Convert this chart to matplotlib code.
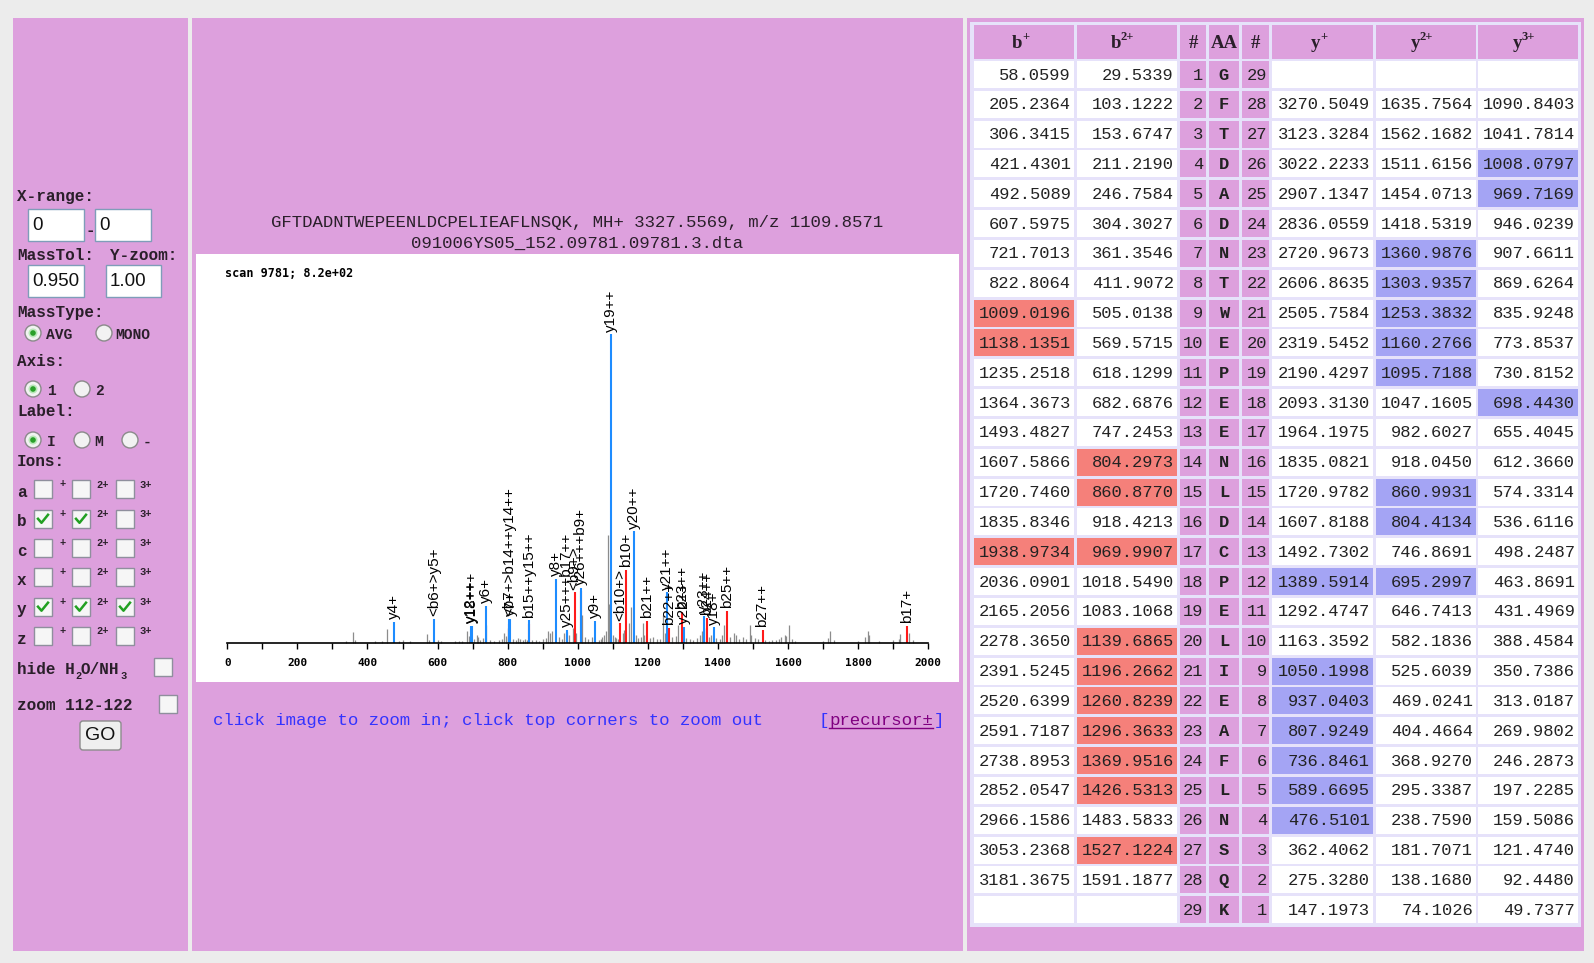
import matplotlib
matplotlib.use('Agg')
import matplotlib.pyplot as plt
from matplotlib.patches import Rectangle, Circle, FancyBboxPatch
from matplotlib.lines import Line2D
from matplotlib.transforms import Affine2D

# ------------------------------------------------------------
# data
# ------------------------------------------------------------
sequence = "GFTDADNTWEPEENLDCPELIEAFLNSQK"

b_1 = ['58.0599', '205.2364', '306.3415', '421.4301', '492.5089', '607.5975', '721.7013',
       '822.8064', '1009.0196', '1138.1351', '1235.2518', '1364.3673', '1493.4827',
       '1607.5866', '1720.7460', '1835.8346', '1938.9734', '2036.0901', '2165.2056',
       '2278.3650', '2391.5245', '2520.6399', '2591.7187', '2738.8953', '2852.0547',
       '2966.1586', '3053.2368', '3181.3675', '']
b_2 = ['29.5339', '103.1222', '153.6747', '211.2190', '246.7584', '304.3027', '361.3546',
       '411.9072', '505.0138', '569.5715', '618.1299', '682.6876', '747.2453', '804.2973',
       '860.8770', '918.4213', '969.9907', '1018.5490', '1083.1068', '1139.6865',
       '1196.2662', '1260.8239', '1296.3633', '1369.9516', '1426.5313', '1483.5833',
       '1527.1224', '1591.1877', '']
y_1 = ['', '3270.5049', '3123.3284', '3022.2233', '2907.1347', '2836.0559', '2720.9673',
       '2606.8635', '2505.7584', '2319.5452', '2190.4297', '2093.3130', '1964.1975',
       '1835.0821', '1720.9782', '1607.8188', '1492.7302', '1389.5914', '1292.4747',
       '1163.3592', '1050.1998', '937.0403', '807.9249', '736.8461', '589.6695',
       '476.5101', '362.4062', '275.3280', '147.1973']
y_2 = ['', '1635.7564', '1562.1682', '1511.6156', '1454.0713', '1418.5319', '1360.9876',
       '1303.9357', '1253.3832', '1160.2766', '1095.7188', '1047.1605', '982.6027',
       '918.0450', '860.9931', '804.4134', '746.8691', '695.2997', '646.7413', '582.1836',
       '525.6039', '469.0241', '404.4664', '368.9270', '295.3387', '238.7590', '181.7071',
       '138.1680', '74.1026']
y_3 = ['', '1090.8403', '1041.7814', '1008.0797', '969.7169', '946.0239', '907.6611',
       '869.6264', '835.9248', '773.8537', '730.8152', '698.4430', '655.4045', '612.3660',
       '574.3314', '536.6116', '498.2487', '463.8691', '431.4969', '388.4584', '350.7386',
       '313.0187', '269.9802', '246.2873', '197.2285', '159.5086', '121.4740', '92.4480',
       '49.7377']

# matched rows (1-based)
hit_b1 = [9, 10, 17]
hit_b2 = [14, 15, 17, 20, 21, 22, 23, 24, 25, 27]
hit_y1 = [18, 21, 22, 23, 24, 25, 26]
hit_y2 = [7, 8, 9, 10, 11, 15, 16, 18]
hit_y3 = [4, 5, 12]

# spectrum : unmatched peaks
gray_mz = [340, 360, 365, 420, 440, 457, 490, 500, 520, 570,
           575, 600, 610, 650, 660, 670, 683, 690, 703, 712,
           716, 722, 730, 739, 750, 760, 775, 785, 790, 795,
           800, 802, 815, 825, 830, 835, 845, 850, 855, 870,
           880, 890, 900, 910, 916, 921, 926, 945, 955, 960,
           975, 985, 996, 1011, 1020, 1030, 1040, 1060, 1065, 1070,
           1075, 1080, 1085, 1088, 1092, 1100, 1105, 1110, 1115, 1128,
           1132, 1145, 1151, 1165, 1172, 1180, 1185, 1190, 1205, 1215,
           1225, 1235, 1242, 1248, 1258, 1270, 1280, 1287, 1300, 1310,
           1320, 1330, 1340, 1350, 1355, 1365, 1375, 1380, 1395, 1405,
           1412, 1417, 1435, 1445, 1450, 1460, 1470, 1480, 1491, 1495,
           1505, 1515, 1535, 1545, 1555, 1565, 1575, 1580, 1590, 1595,
           1603, 1610, 1620, 1700, 1715, 1720, 1730, 1800, 1820, 1827,
           1832, 1860, 1900, 1915, 1919, 1945, 1955]
gray_int = [5, 29, 8, 5, 5, 37, 5, 8, 5, 24,
            8, 8, 5, 5, 5, 5, 32, 19, 11, 21,
            16, 8, 13, 48, 8, 5, 8, 11, 27, 19,
            13, 40, 11, 8, 13, 11, 8, 11, 8, 8,
            8, 5, 11, 13, 32, 27, 32, 16, 11, 27,
            21, 40, 27, 74, 16, 11, 16, 8, 11, 16,
            21, 32, 287, 104, 27, 21, 16, 13, 11, 27,
            35, 53, 96, 21, 13, 16, 53, 21, 13, 16,
            11, 11, 74, 27, 21, 16, 19, 48, 16, 13,
            11, 8, 13, 21, 32, 40, 16, 21, 13, 11,
            21, 48, 16, 27, 21, 11, 16, 11, 48, 21,
            13, 11, 8, 5, 8, 8, 11, 16, 21, 19,
            48, 11, 5, 5, 13, 32, 8, 5, 16, 32,
            21, 5, 8, 11, 24, 27, 8]

# b ions (red)
red_mz = [804.3, 860.9, 970.0, 991.0, 1009.0, 1120.1, 1138.1, 1196.3, 1260.8,
          1296.4, 1370.0, 1426.5, 1527.1, 1939.0]
red_int = [50, 50, 30, 135, 140, 53, 195, 60, 40, 84, 68, 87, 35, 46]
red_lab = ['', '', '', '<b9+>', '', '<b10+>', 'b10+', 'b21++', 'b22++',
           'b23++', 'b24++', 'b25++', 'b27++', 'b17+']

# y ions (blue)
blue_mz = [476.5, 589.7, 695.3, 698.4, 736.8, 804.4, 807.9, 860.9, 937.0, 969.7,
           1008.1, 1050.2, 1095.7, 1160.3, 1253.4, 1303.9, 1361.0, 1389.6]
blue_int = [57, 64, 46, 46, 100, 64, 64, 61, 171, 35,
            148, 60, 820, 297, 135, 44, 72, 42]
blue_lab = ['y4+', '<b6+>y5+', 'y12++', 'y18+++', 'y6+', '<b7+>b14++y14++', 'y7+',
            'b15++y15++', 'y8+', 'y25+++b17++', 'y26+++b9+', 'y9+', 'y19++', 'y20++',
            'y21++', 'y22++', 'y23++', 'y18+']

# ------------------------------------------------------------
# page canvas (pixel coordinates, origin top-left)
# ------------------------------------------------------------
W, H = 1594, 963
PLUM = '#dda0dd'
fig = plt.figure(figsize=(W / 100, H / 100), dpi=100)
fig.patch.set_facecolor('#ececec')
PX = Affine2D().scale(1 / W, -1 / H).translate(0, 1) + fig.transFigure

MONO = 'Liberation Mono'


def rect(x0, y0, x1, y1, z=1, **kw):
    fig.add_artist(Rectangle((x0, y0), x1 - x0, y1 - y0, transform=PX, zorder=z, **kw))


def txt(x, y, s, **kw):
    kw.setdefault('va', 'center')
    return fig.text(x, y, s, transform=PX, **kw)


def inp(x0, y0, x1, y1, s):
    rect(x0, y0, x1, y1, facecolor='white', edgecolor='#7f9db9', linewidth=1)
    txt(x0 + 4, (y0 + y1) / 2 + 1, s, family='Liberation Sans', fontsize=13.5, color='#111111')


def radio(cx, cy, on=False):
    fig.add_artist(Circle((cx, cy), 8, transform=PX, facecolor='#f2f2f2',
                          edgecolor='#8a8a8a', linewidth=1, zorder=2))
    if on:
        fig.add_artist(Circle((cx, cy), 4.5, transform=PX, facecolor='#b8e8b8',
                              edgecolor='none', zorder=3))
        fig.add_artist(Circle((cx, cy), 2.8, transform=PX, facecolor='#2aa02a',
                              edgecolor='none', zorder=3))


def check(x0, yc, on=False):
    rect(x0, yc - 9, x0 + 18, yc + 9, z=2, facecolor='#f6f6f6', edgecolor='#8f8f9d', linewidth=1)
    if on:
        fig.add_artist(Line2D([x0 + 4, x0 + 7.5, x0 + 14], [yc, yc + 4, yc - 4],
                              transform=PX, color='#22a022', linewidth=1.8, zorder=3))


# panels
rect(13, 18, 188, 951, z=-3, facecolor=PLUM, edgecolor='none')
rect(192, 18, 963, 951, z=-3, facecolor=PLUM, edgecolor='none')
rect(967, 18, 1584, 951, z=-3, facecolor=PLUM, edgecolor='none')

# ------------------------------------------------------------
# left control panel
# ------------------------------------------------------------
lab = dict(family=MONO, fontweight='bold', fontsize=11.5, color='#2a1f2a')
sml = dict(family=MONO, fontweight='bold', fontsize=10.5, color='#2a1f2a')
sup = dict(family=MONO, fontweight='bold', fontsize=7.5, color='#2a1f2a')

txt(17, 197, 'X-range:', **lab)
inp(28, 209, 84, 241, '0')
txt(86, 231, '-', **lab)
inp(95, 209, 151, 241, '0')
txt(17, 256, 'MassTol:', **lab)
txt(110, 256, 'Y-zoom:', **lab)
inp(28, 265, 84, 297, '0.950')
inp(106, 265, 161, 297, '1.00')

txt(17, 313, 'MassType:', **lab)
radio(33, 333, True)
txt(46, 335, 'AVG', **sml)
radio(104, 333)
txt(115, 335, 'MONO', **sml)

txt(17, 362, 'Axis:', **lab)
radio(33, 389, True)
txt(47, 391, '1', **sml)
radio(82, 389)
txt(95, 391, '2', **sml)

txt(17, 412, 'Label:', **lab)
radio(33, 440, True)
txt(47, 442, 'I', **sml)
radio(82, 440)
txt(94, 442, 'M', **sml)
radio(130, 440)
txt(143, 442, '-', **sml)

txt(17, 462, 'Ions:', **lab)
ion_rows = ['a', 'b', 'c', 'x', 'y', 'z']
ion_on = {'b': [True, True, False], 'y': [True, True, True]}
for i, ion in enumerate(ion_rows):
    yc = 489.5 + i * 29.3
    txt(17, yc + 3, ion, **lab)
    st = ion_on.get(ion, [False, False, False])
    check(34, yc, st[0])
    txt(60, yc - 5, '+', **sup)
    check(72, yc, st[1])
    txt(96, yc - 5, '2+', **sup)
    check(116, yc, st[2])
    txt(139, yc - 5, '3+', **sup)

txt(17, 669, 'hide H', **lab)
txt(75, 676, '2', **sup)
txt(81, 669, 'O/NH', **lab)
txt(120, 676, '3', **sup)
check(154, 667)
txt(17, 705, 'zoom 112-122', **lab)
check(159, 704)
fig.add_artist(FancyBboxPatch((80, 721), 41, 29, boxstyle='round,pad=0,rounding_size=3',
                              transform=PX, facecolor='#efefef', edgecolor='#8c8c8c',
                              linewidth=1, zorder=2))
txt(100.5, 736, 'GO', ha='center', family='Liberation Sans', fontsize=14, color='#111111')

# ------------------------------------------------------------
# spectrum
# ------------------------------------------------------------
title = dict(family=MONO, fontsize=12.5, color='#2a1f2a', ha='center')
txt(577, 222, 'GFTDADNTWEPEENLDCPELIEAFLNSQK, MH+ 3327.5569, m/z 1109.8571', **title)
txt(577, 243, '091006YS05_152.09781.09781.3.dta', **title)

ax = fig.add_axes([196 / W, 1 - 682 / H, (959 - 196) / W, (682 - 254) / H])
ax.set_facecolor('white')
ax.set_xlim(-89.3, 2087.6)
ax.set_ylim(-102.7, 1033.2)

ax.vlines(gray_mz, 0, gray_int, color='#8c8c8c', linewidth=0.9)
ax.vlines(red_mz, 0, red_int, color='#ff1a1a', linewidth=1.5)
ax.vlines(blue_mz, 0, blue_int, color='#1e8cff', linewidth=1.5)

for mz, h, s in list(zip(red_mz, red_int, red_lab)) + list(zip(blue_mz, blue_int, blue_lab)):
    if s:
        ax.annotate(s, (mz, h), xytext=(0, 2), textcoords='offset points',
                    rotation=90, ha='center', va='bottom',
                    family='Liberation Sans', fontsize=11, color='black')

for side in ['top', 'right', 'left']:
    ax.spines[side].set_visible(False)
ax.spines['bottom'].set_position(('data', 0))
ax.spines['bottom'].set_bounds(0, 2000)
ax.spines['bottom'].set_linewidth(1.2)
ax.set_xticks(range(0, 2001, 200))
ax.set_xticks(range(100, 2000, 200), minor=True)
ax.set_yticks([])
ax.tick_params(axis='x', which='both', direction='out', length=4, width=1, pad=6.5,
               labelsize=8)
for t in ax.get_xticklabels():
    t.set_family('DejaVu Sans Mono')
    t.set_fontweight('bold')

ax.text(0.038, 0.955, 'scan 9781; 8.2e+02', transform=ax.transAxes, family='DejaVu Sans Mono',
        fontweight='bold', fontsize=8.5, va='center', ha='left')

txt(213, 720, 'click image to zoom in; click top corners to zoom out',
    family=MONO, fontsize=12.5, color='#3333ff')
txt(819, 720, '[', family=MONO, fontsize=12.5, color='#3333ff')
txt(829.5, 720, 'precursor\u00b1', family=MONO, fontsize=12.5, color='#800080')
txt(933.5, 720, ']', family=MONO, fontsize=12.5, color='#3333ff')
fig.add_artist(Line2D([829.5, 933.5], [728, 728], transform=PX, color='#800080', linewidth=1))

# ------------------------------------------------------------
# fragment table
# ------------------------------------------------------------
cols = [(974, 1074), (1077, 1177), (1180, 1206), (1209, 1239), (1242, 1269),
        (1272, 1373), (1376, 1476), (1478, 1578)]
rect(970, 22, 1581, 927, z=-2, facecolor='#e6e2fa', edgecolor='none')

head_base = ['b', 'b', '#', 'AA', '#', 'y', 'y', 'y']
head_sup = ['+', '2+', '', '', '', '+', '2+', '3+']
hf = dict(family='Liberation Serif', fontweight='bold', color='#2a1f2a')
for (x0, x1), base, sp in zip(cols, head_base, head_sup):
    rect(x0, 25, x1, 59, z=-1, facecolor=PLUM, edgecolor='none')
    cx = (x0 + x1) / 2
    if sp:
        k = 2 if len(sp) == 1 else 6
        txt(cx - k, 44, base, ha='right', fontsize=13.5, **hf)
        txt(cx - k, 37, sp, ha='left', fontsize=9, **hf)
    else:
        txt(cx, 43, base, ha='center', fontsize=13.5, **hf)

ion_cols = {0: (b_1, hit_b1, '#f5807a'), 1: (b_2, hit_b2, '#f5807a'),
            5: (y_1, hit_y1, '#a4a4f4'), 6: (y_2, hit_y2, '#a4a4f4'),
            7: (y_3, hit_y3, '#a4a4f4')}
cf = dict(family=MONO, fontsize=12.3, color='#222222')
n = len(sequence)
for r in range(n):
    y0 = 61 + r * 29.83
    y1 = y0 + 27
    yc = y0 + 14
    for c, (x0, x1) in enumerate(cols):
        if c in ion_cols:
            vals, hits, hc = ion_cols[c]
            face = hc if (r + 1) in hits else 'white'
            rect(x0, y0, x1, y1, z=-1, facecolor=face, edgecolor='none')
            txt(x1 - 3, yc, vals[r], ha='right', **cf)
        else:
            rect(x0, y0, x1, y1, z=-1, facecolor=PLUM, edgecolor='none')
    txt(cols[2][1] - 3, yc, str(r + 1), ha='right', **cf)
    txt((cols[3][0] + cols[3][1]) / 2, yc, sequence[r], ha='center', fontweight='bold', **cf)
    txt(cols[4][1] - 2, yc, str(n - r), ha='right', **cf)

fig.savefig('out.png', dpi=100, facecolor=fig.get_facecolor())
